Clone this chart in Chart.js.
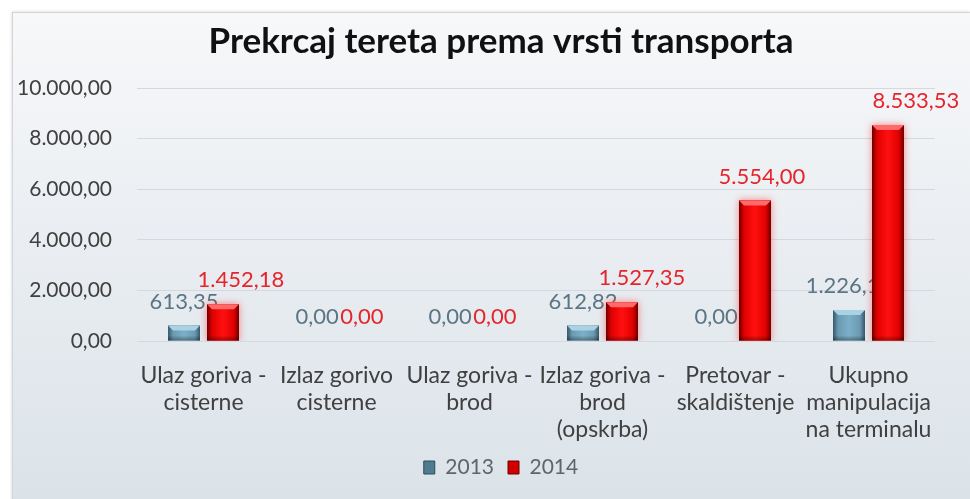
<!DOCTYPE html>
<html>
<head>
<meta charset="utf-8">
<script src="https://cdn.jsdelivr.net/npm/chart.js@4"></script>
<style>
html,body{margin:0;padding:0;background:#ffffff;}
#wrap{width:970px;height:499px;position:relative;}
</style>
</head>
<body>
<div id="wrap"><canvas id="c"></canvas></div>
<script>
const titleText = "Prekrcaj tereta prema vrsti transporta";
const categories = [
  ["Ulaz goriva -", "cisterne"],
  ["Izlaz gorivo", "cisterne"],
  ["Ulaz goriva -", "brod"],
  ["Izlaz goriva -", "brod", "(opskrba)"],
  ["Pretovar -", "skaldištenje"],
  ["Ukupno", "manipulacija", "na terminalu"]
];
const seriesNames = ["2013", "2014"];
const values2013 = [613.35, 0, 0, 612.82, 0, 1226.17];
const values2014 = [1452.18, 0, 0, 1527.35, 5554.00, 8533.53];
const yTicks = [0, 2000, 4000, 6000, 8000, 10000];

function fmt(v) {
  const neg = v < 0; v = Math.abs(v);
  let s = v.toFixed(2);
  let [ip, dp] = s.split(".");
  ip = ip.replace(/\B(?=(\d{3})+(?!\d))/g, ".");
  return (neg ? "-" : "") + ip + "," + dp;
}

const FONT = "Lato, 'Open Sans', sans-serif";

const panelPlugin = {
  id: "panel",
  beforeDraw(chart) {
    const ctx = chart.ctx;
    ctx.save();
    ctx.fillStyle = "#ffffff";
    ctx.fillRect(0, 0, chart.width, chart.height);
    const g = ctx.createLinearGradient(0, 12, 0, chart.height);
    g.addColorStop(0, "#f7f8fa");
    g.addColorStop(0.5, "#e9edf1");
    g.addColorStop(1, "#dbe3e9");
    ctx.shadowColor = "rgba(0,0,0,0.18)";
    ctx.shadowBlur = 3;
    ctx.fillStyle = g;
    ctx.fillRect(12, 12, chart.width - 12, chart.height);
    ctx.shadowColor = "transparent";
    ctx.strokeStyle = "#d2d6da";
    ctx.lineWidth = 1;
    ctx.strokeRect(12.5, 12.5, chart.width, chart.height);
    ctx.restore();
  },
  afterLayout(chart) {
    // centre title and legend over the panel's content area (as in the original)
    if (chart.titleBlock) chart.titleBlock.left = 67;
    if (chart.legend) { chart.legend.left = 67; chart.legend.fit && 0; }
  }
};

const bevelColors = [
  {edge: "#36576a", mid: "#6a9ab2", center: "#7cb0c8", top: "#a9d2e3"},
  {edge: "#6a0000", mid: "#e00000", center: "#ff1010", top: "#ff6a6a"}
];
const labelColors = ["#5b7584", "#e5252b"];
const labelDx = [[0, 0, 0, 0, 0, 0], [18, 6, 6, 20, 7, 28]];

function drawLabels(chart, di) {
  const ctx = chart.ctx;
  const meta = chart.getDatasetMeta(di);
  const ds = chart.data.datasets[di];
  ctx.save();
  ctx.font = "22px " + FONT;
  ctx.fillStyle = labelColors[di];
  ctx.textAlign = "center";
  ctx.textBaseline = "middle";
  meta.data.forEach((el, i) => {
    const p = el.getProps(["x", "y"], true);
    ctx.fillText(fmt(ds.data[i]), p.x + labelDx[di][i], p.y - 24);
  });
  ctx.restore();
}

const barStylePlugin = {
  id: "barStyle",
  beforeDatasetsDraw(chart) {
    drawLabels(chart, 0);
  },
  beforeDatasetDraw(chart, args) {
    if (args.index === 1) {
      chart.ctx.save();
      chart.ctx.shadowColor = "rgba(255,40,40,0.55)";
      chart.ctx.shadowBlur = 7;
    }
  },
  afterDatasetDraw(chart, args) {
    const ctx = chart.ctx;
    if (args.index === 1) ctx.restore();
    const c = bevelColors[args.index];
    const meta = args.meta;
    ctx.save();
    meta.data.forEach(el => {
      const p = el.getProps(["x", "y", "base", "width"], true);
      const h = p.base - p.y;
      if (h < 1) return;
      const l = p.x - p.width / 2, r = p.x + p.width / 2;
      const g = ctx.createLinearGradient(l, 0, r, 0);
      g.addColorStop(0, c.edge);
      g.addColorStop(0.16, c.mid);
      g.addColorStop(0.5, c.center);
      g.addColorStop(0.84, c.mid);
      g.addColorStop(1, c.edge);
      ctx.fillStyle = g;
      ctx.fillRect(l, p.y, p.width, h);
      const bv = Math.min(5, h / 2);
      ctx.beginPath();
      ctx.moveTo(l, p.y);
      ctx.lineTo(r, p.y);
      ctx.lineTo(r - bv, p.y + bv);
      ctx.lineTo(l + bv, p.y + bv);
      ctx.closePath();
      ctx.fillStyle = c.top;
      ctx.fill();
      const gb = ctx.createLinearGradient(0, p.base - bv, 0, p.base);
      gb.addColorStop(0, "rgba(0,0,0,0)");
      gb.addColorStop(1, "rgba(0,0,0,0.35)");
      ctx.fillStyle = gb;
      ctx.fillRect(l, p.base - bv, p.width, bv);
    });
    ctx.restore();
  },
  afterDatasetsDraw(chart) {
    drawLabels(chart, 1);
  }
};

new Chart(document.getElementById("c"), {
  type: "bar",
  data: {
    labels: categories,
    datasets: [
      {label: seriesNames[0], data: values2013, backgroundColor: "#6f9db3", borderWidth: 0,
       categoryPercentage: 0.586, barPercentage: 0.82},
      {label: seriesNames[1], data: values2014, backgroundColor: "#e80000", borderWidth: 0,
       categoryPercentage: 0.586, barPercentage: 0.82}
    ]
  },
  options: {
    responsive: true,
    maintainAspectRatio: false,
    animation: false,
    layout: {padding: {left: 0, right: 35, top: 0, bottom: 11}},
    plugins: {
      tooltip: {enabled: false},
      title: {
        display: true,
        text: titleText,
        color: "#111111",
        font: {family: FONT, size: 35, weight: "bold", lineHeight: 1.2},
        padding: {top: 21, bottom: 25}
      },
      legend: {
        position: "bottom",
        labels: {
          color: "#5b6670",
          font: {family: FONT, size: 21},
          boxWidth: 11,
          boxHeight: 13,
          padding: 14,
          generateLabels(chart) {
            return chart.data.datasets.map((ds, i) => ({
              text: ds.label,
              fillStyle: i === 0 ? "#4f7c90" : "#d00000",
              strokeStyle: i === 0 ? "#2f4c58" : "#700000",
              lineWidth: 1,
              fontColor: "#5b6670",
              datasetIndex: i,
              hidden: false
            }));
          }
        }
      }
    },
    scales: {
      x: {
        grid: {display: false, drawTicks: false},
        border: {display: false},
        ticks: {
          color: "#404040",
          font: {family: FONT, size: 23, lineHeight: 1.17},
          padding: 21,
          maxRotation: 0,
          autoSkip: false
        },
        afterFit(scale) { scale.height = 102; }
      },
      y: {
        min: 0,
        max: 10000,
        afterBuildTicks(scale) { scale.ticks = yTicks.map(v => ({value: v})); },
        grid: {color: "#d3d9de", lineWidth: 1, drawTicks: false},
        border: {display: false},
        ticks: {
          color: "#404040",
          font: {family: FONT, size: 21},
          padding: 25,
          callback: v => fmt(v)
        },
        afterFit(scale) { scale.width = 137; }
      }
    }
  },
  plugins: [panelPlugin, barStylePlugin]
});
</script>
</body>
</html>
